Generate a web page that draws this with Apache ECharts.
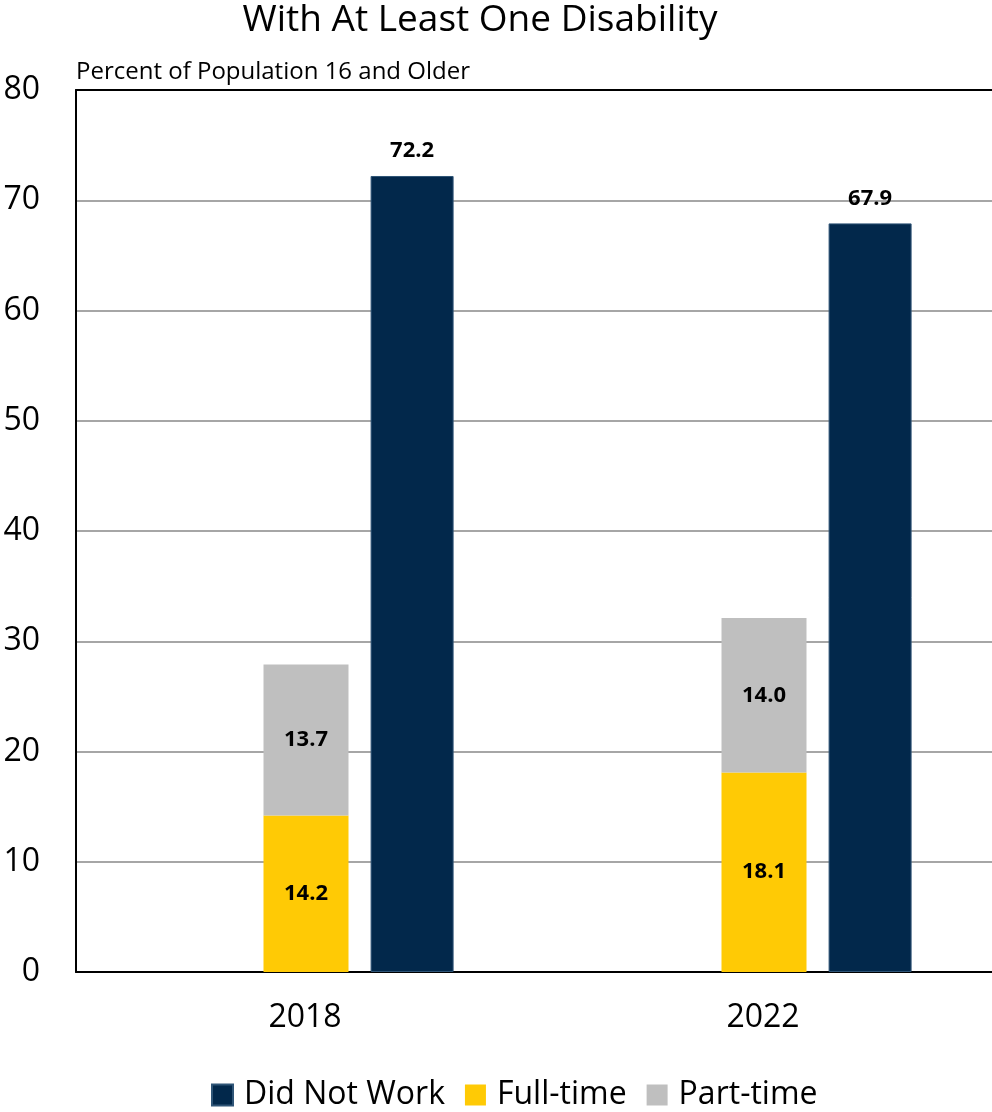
<!DOCTYPE html>
<html>
<head>
<meta charset="utf-8">
<script src="https://cdn.jsdelivr.net/npm/echarts@6/dist/echarts.min.js"></script>
<style>
  html, body { margin: 0; padding: 0; background: #fff; }
  #chart { width: 992px; height: 1112px; }
</style>
</head>
<body>
<div id="chart"></div>
<script>
// data
const years = ["2018", "2022"];
const fullTime = [14.2, 18.1];
const partTime = [13.7, 14.0];
const didNotWork = [72.2, 67.9];
const yTicks = [0, 10, 20, 30, 40, 50, 60, 70, 80];

const font = "'Open Sans', sans-serif";
const chart = echarts.init(document.getElementById("chart"));

const barLabel = {
  show: true,
  fontFamily: font,
  fontWeight: "bold",
  fontSize: 22,
  color: "#000",
  formatter: (p) => p.value.toFixed(1),
};

chart.setOption({
  animation: false,
  textStyle: { fontFamily: font },
  title: {
    text: "With At Least One Disability",
    left: 475,
    textAlign: "center",
    top: -3,
    textStyle: { fontFamily: font, fontSize: 37, fontWeight: "normal", color: "#000" },
  },
  legend: {
    data: ["Did Not Work", "Full-time", "Part-time"],
    top: 1074,
    left: 206,
    itemWidth: 21,
    itemHeight: 21,
    itemGap: 20,
    icon: "rect",
    textStyle: { fontFamily: font, fontSize: 32, color: "#000", padding: [0, 0, 0, 6] },
  },
  grid: {
    left: 76,
    right: 0,
    top: 90,
    bottom: 140,
  },
  xAxis: [
    {
      type: "category",
      data: years,
      axisLine: { lineStyle: { color: "#000", width: 2 } },
      axisTick: { show: false },
      axisLabel: { fontFamily: font, fontSize: 32, color: "#000", margin: 30 },
    },
    {
      // top frame line
      type: "category",
      data: years,
      position: "top",
      axisLine: { lineStyle: { color: "#000", width: 2 } },
      axisTick: { show: false },
      axisLabel: { show: false },
    },
  ],
  yAxis: {
    type: "value",
    min: yTicks[0],
    max: yTicks[yTicks.length - 1],
    interval: 10,
    name: "Percent of Population 16 and Older",
    nameLocation: "end",
    nameGap: 6,
    nameTextStyle: { fontFamily: font, fontSize: 24, color: "#000", align: "left" },
    axisLine: { show: true, lineStyle: { color: "#000", width: 2 } },
    axisTick: { show: false },
    axisLabel: { fontFamily: font, fontSize: 32, color: "#000", margin: 36 },
    splitLine: { lineStyle: { color: "#a6a6a6", width: 2 } },
  },
  series: [
    {
      name: "spacer",
      type: "bar",
      data: years.map(() => null),
      barWidth: 85,
      barGap: "26%",
    },
    {
      name: "Full-time",
      type: "bar",
      stack: "work",
      data: fullTime,
      barWidth: 85,
      barGap: "26%",
      itemStyle: { color: "#ffca05" },
      label: Object.assign({ position: "inside" }, barLabel),
    },
    {
      name: "Part-time",
      type: "bar",
      stack: "work",
      data: partTime,
      barWidth: 85,
      barGap: "26%",
      itemStyle: { color: "#bfbfbf" },
      label: Object.assign({ position: "inside" }, barLabel),
    },
    {
      name: "Did Not Work",
      type: "bar",
      data: didNotWork,
      barWidth: 83,
      barGap: "26%",
      itemStyle: { color: "#02284b", borderColor: "#2f5577", borderWidth: 1 },
      label: Object.assign({ position: "top", distance: 14 }, barLabel),
    },
  ],
});
</script>
</body>
</html>
